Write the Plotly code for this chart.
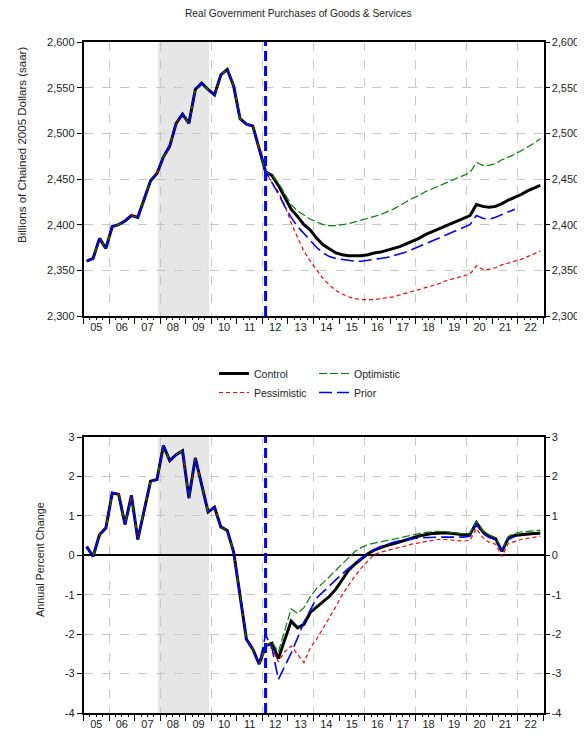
import plotly.graph_objects as go

# ---------------- data ----------------
first_year = 2005
n_quarters = 72
year_labels = ['05', '06', '07', '08', '09', '10', '11', '12', '13', '14', '15',
               '16', '17', '18', '19', '20', '21', '22']

# Level, billions of chained 2005 dollars (history 2005Q1-2011Q4)
history_level = [2360, 2363, 2385, 2374, 2398, 2400, 2404, 2410, 2408, 2428, 2448, 2456,
                 2474, 2486, 2511, 2521, 2511, 2548, 2555, 2548, 2542, 2564, 2570, 2552,
                 2516, 2510, 2508, 2483]
# forecasts 2012Q1 onwards
control_level = [2458, 2454, 2443, 2430, 2417, 2409, 2400, 2394, 2385, 2378, 2373, 2369,
                 2367, 2366, 2366, 2366, 2367, 2369, 2370, 2372, 2374, 2376, 2379, 2382,
                 2385, 2389, 2392, 2395, 2398, 2401, 2404, 2407, 2410, 2422, 2420, 2419,
                 2420, 2423, 2427, 2430, 2433, 2437, 2440, 2443]
optimistic_level = [2458, 2454, 2446, 2434, 2422, 2415, 2410, 2406, 2403, 2400, 2399, 2399,
                    2400, 2401, 2403, 2405, 2407, 2409, 2411, 2414, 2417, 2421, 2425, 2429,
                    2432, 2436, 2439, 2442, 2445, 2448, 2451, 2454, 2457, 2468, 2465, 2465,
                    2467, 2471, 2474, 2477, 2481, 2485, 2489, 2494]
pessimistic_level = [2458, 2446, 2436, 2421, 2402, 2386, 2371, 2360, 2350, 2341, 2334, 2328,
                     2324, 2321, 2319, 2318, 2318, 2318, 2319, 2320, 2321, 2323, 2325, 2327,
                     2329, 2331, 2333, 2335, 2338, 2340, 2342, 2344, 2346, 2355, 2351, 2351,
                     2353, 2356, 2358, 2360, 2362, 2365, 2368, 2371]
prior_level = [2458, 2446, 2434, 2420, 2408, 2398, 2390, 2382, 2375, 2369, 2365, 2363,
               2362, 2361, 2360, 2360, 2361, 2362, 2363, 2364, 2366, 2368, 2370, 2373,
               2376, 2379, 2382, 2385, 2388, 2391, 2394, 2397, 2400, 2410, 2407, 2406,
               2408, 2411, 2414, 2417]

# Annual percent change
history_pct = [0.22, -0.03, 0.52, 0.69, 1.58, 1.55, 0.78, 1.52, 0.40, 1.15, 1.88, 1.92,
               2.78, 2.40, 2.55, 2.65, 1.45, 2.47, 1.75, 1.10, 1.22, 0.72, 0.63, 0.08,
               -1.02, -2.13, -2.38, -2.76]
control_pct = [-2.30, -2.23, -2.62, -2.15, -1.67, -1.84, -1.75, -1.45, -1.31, -1.18, -1.04,
               -0.86, -0.62, -0.38, -0.22, -0.08, 0.04, 0.13, 0.20, 0.25, 0.29, 0.34, 0.39,
               0.45, 0.49, 0.52, 0.55, 0.56, 0.57, 0.56, 0.54, 0.52, 0.53, 0.83, 0.60, 0.48,
               0.42, 0.10, 0.44, 0.50, 0.52, 0.54, 0.55, 0.56]
optimistic_pct = [-2.30, -2.20, -2.45, -1.90, -1.36, -1.47, -1.33, -1.05, -0.84, -0.70,
                  -0.54, -0.38, -0.20, -0.04, 0.10, 0.20, 0.27, 0.31, 0.34, 0.37, 0.40,
                  0.44, 0.48, 0.52, 0.55, 0.58, 0.60, 0.61, 0.60, 0.58, 0.56, 0.54, 0.56,
                  0.85, 0.62, 0.52, 0.45, 0.14, 0.48, 0.56, 0.59, 0.61, 0.62, 0.63]
pessimistic_pct = [-2.36, -2.35, -2.70, -2.45, -2.30, -2.50, -2.72, -2.35, -2.12, -1.85,
                   -1.58, -1.30, -1.00, -0.75, -0.52, -0.32, -0.15, 0.02, 0.08, 0.12, 0.15,
                   0.19, 0.24, 0.29, 0.32, 0.35, 0.38, 0.40, 0.40, 0.39, 0.38, 0.36, 0.38,
                   0.68, 0.45, 0.33, 0.28, -0.03, 0.30, 0.36, 0.40, 0.43, 0.46, 0.48]
prior_pct = [-2.02, -2.35, -3.15, -2.82, -2.48, -2.10, -1.70, -1.39, -1.08, -0.93, -0.77,
             -0.62, -0.47, -0.33, -0.20, -0.07, 0.03, 0.14, 0.22, 0.28, 0.33, 0.37, 0.40,
             0.42, 0.44, 0.45, 0.46, 0.46, 0.46, 0.46, 0.46, 0.46, 0.48, 0.78, 0.55, 0.45,
             0.40, 0.13, 0.40, 0.48]

level_ticks = [2300, 2350, 2400, 2450, 2500, 2550, 2600]
pct_ticks = [-4, -3, -2, -1, 0, 1, 2, 3]
pct_tick_labels = ['-4', '-3', '-2', '-1', '0', '1', '2', '3']

recession = (2007.92, 2009.92)
forecast_start = 2012.125
grid_years = [2006, 2008, 2010, 2012, 2014, 2016, 2018, 2020, 2022]

# ---------------- build ----------------
x_q = [first_year + i / 4 + 0.125 for i in range(n_quarters)]
year_mid = [first_year + k + 0.5 for k in range(len(year_labels))]
year_edges = [first_year + k for k in range(len(year_labels) + 1)]
x_range = [first_year, first_year + len(year_labels)]

FONT = "Liberation Sans, Arial, sans-serif"
TXT = "#222"

# page body has an 8px margin: size the figure to the visible window
OFF, W, H = 8, 577, 733


def fx(sx):
    return (sx - OFF) / W


def fy(sy):
    return 1 - (sy - OFF) / H


series = [
    ("Control", history_level + control_level, history_pct + control_pct,
     dict(color="black", width=3), "legend"),
    ("Pessimistic", history_level + pessimistic_level, history_pct + pessimistic_pct,
     dict(color="#ff0000", width=1.2, dash="4px,3px"), "legend"),
    ("Optimistic", history_level + optimistic_level, history_pct + optimistic_pct,
     dict(color="#008000", width=1.2, dash="8px,3px"), "legend2"),
    ("Prior", history_level + prior_level, history_pct + prior_pct,
     dict(color="#0000ff", width=1.6, dash="13px,5px"), "legend2"),
]

fig = go.Figure()
for name, lv, pc, line, lg in series:
    # Prior is drawn on the overlay axes, which carry the right-hand labels and quarter ticks
    top_axes = ("x3", "y3") if name == "Prior" else ("x", "y")
    bot_axes = ("x4", "y4") if name == "Prior" else ("x2", "y2")
    fig.add_trace(go.Scatter(x=x_q[:len(lv)], y=lv, mode="lines", name=name, line=line,
                             xaxis=top_axes[0], yaxis=top_axes[1], legend=lg,
                             showlegend=True))
    fig.add_trace(go.Scatter(x=x_q[:len(pc)], y=pc, mode="lines", name=name, line=line,
                             xaxis=bot_axes[0], yaxis=bot_axes[1], legend=lg,
                             showlegend=False))

XD = [fx(83.5), fx(543.5)]
TOPD = [fy(316), fy(42)]
BOTD = [fy(713), fy(437)]

tickfont = dict(family=FONT, size=11, color=TXT)
grid = dict(showgrid=True, gridcolor="#c8c8c8", griddash="dash", gridwidth=1)


def xmain(anchor):
    return dict(domain=XD, range=x_range, anchor=anchor, tickmode="array",
                tickvals=year_mid, ticktext=year_labels, ticks="", ticklen=0,
                showgrid=False, showline=True, linecolor="black", linewidth=1.5,
                mirror=True, tickfont=tickfont, zeroline=False, automargin=False,
                minor=dict(tickmode="array", tickvals=grid_years, ticks="",
                           showgrid=True, gridcolor="#c8c8c8", griddash="dash"))


def xticks(over, anchor):
    return dict(domain=XD, range=x_range, overlaying=over, anchor=anchor,
                tickmode="array", tickvals=year_edges, ticks="outside", ticklen=7,
                tickcolor="black", showticklabels=False, showgrid=False,
                showline=False, zeroline=False, automargin=False,
                minor=dict(tickmode="linear", tick0=first_year, dtick=0.25,
                           ticks="outside", ticklen=3, tickcolor="black",
                           showgrid=False))


def yright(over, anchor, rng, vals, text=None, fmt=None):
    d = dict(range=rng, overlaying=over, side="right", anchor=anchor,
             tickmode="array", tickvals=vals, ticks="outside", ticklen=5,
             tickcolor="black", showgrid=False, zeroline=False, showline=False,
             tickfont=tickfont, automargin=False)
    if text is not None:
        d["ticktext"] = text
    if fmt is not None:
        d["tickformat"] = fmt
    return d


fig.update_layout(
    width=W, height=H,
    margin=dict(l=0, r=0, t=0, b=0, pad=0, autoexpand=False),
    paper_bgcolor="white", plot_bgcolor="white",
    font=dict(family=FONT, size=11, color=TXT),
    xaxis=xmain("y"),
    xaxis2=xmain("y2"),
    xaxis3=xticks("x", "y"),
    xaxis4=xticks("x2", "y2"),
    yaxis=dict(domain=TOPD, range=[2300, 2600], anchor="x", tickmode="array",
               tickvals=level_ticks, tickformat=",", ticks="outside", ticklen=5,
               tickcolor="black", showline=True, linecolor="black", linewidth=1.5,
               mirror=True, zeroline=False, tickfont=tickfont, automargin=False, **grid),
    yaxis3=yright("y", "x3", [2300, 2600], level_ticks, fmt=","),
    yaxis2=dict(domain=BOTD, range=[-4, 3], anchor="x2", tickmode="array",
                tickvals=pct_ticks, ticktext=pct_tick_labels, ticks="outside",
                ticklen=5, tickcolor="black", showline=True, linecolor="black",
                linewidth=1.5, mirror=True, zeroline=True, zerolinecolor="black",
                zerolinewidth=2, tickfont=tickfont, automargin=False, **grid),
    yaxis4=yright("y2", "x4", [-4, 3], pct_ticks, text=pct_tick_labels),
    legend=dict(x=fx(214), y=fy(359), xanchor="left", yanchor="top", orientation="v",
                font=dict(family=FONT, size=10.5, color=TXT), tracegroupgap=0,
                bgcolor="rgba(0,0,0,0)"),
    legend2=dict(x=fx(314), y=fy(359), xanchor="left", yanchor="top", orientation="v",
                 font=dict(family=FONT, size=10.5, color=TXT), tracegroupgap=0,
                 bgcolor="rgba(0,0,0,0)"),
    showlegend=True,
)

for xr, yr in (("x", "y domain"), ("x2", "y2 domain")):
    fig.add_shape(type="rect", xref=xr, yref=yr, x0=recession[0], x1=recession[1],
                  y0=0, y1=1, fillcolor="#e6e6e6", line=dict(width=0), layer="below")
    fig.add_shape(type="line", xref=xr, yref=yr, x0=forecast_start, x1=forecast_start,
                  y0=0, y1=1, line=dict(color="#0000ff", width=3, dash="10px,5px"),
                  layer="above")

fig.add_annotation(text="Real Government Purchases of Goods & Services", xref="paper",
                   yref="paper", x=fx(298.5), y=fy(14), showarrow=False,
                   xanchor="center", yanchor="middle",
                   font=dict(family=FONT, size=10.2, color=TXT))
fig.add_annotation(text="Billions of Chained 2005 Dollars (saar)", xref="paper",
                   yref="paper", x=fx(22), y=fy(145), showarrow=False,
                   textangle=-90, xanchor="center", yanchor="middle",
                   font=dict(family=FONT, size=11.5, color=TXT))
fig.add_annotation(text="Annual Percent Change", xref="paper", yref="paper",
                   x=fx(40), y=fy(560), showarrow=False, textangle=-90,
                   xanchor="center", yanchor="middle",
                   font=dict(family=FONT, size=10.8, color=TXT))

fig.write_html("out.html")
